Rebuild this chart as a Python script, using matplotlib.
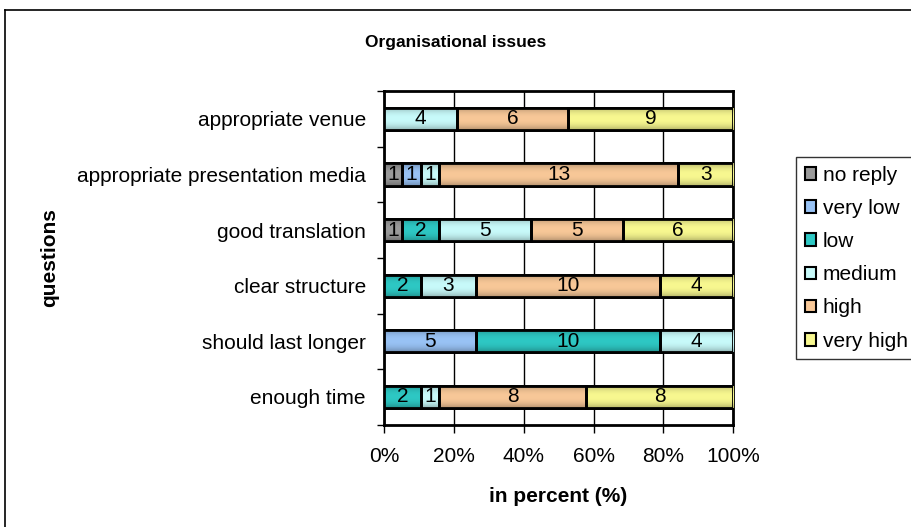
import numpy as np
import matplotlib
matplotlib.use("Agg")
import matplotlib.pyplot as plt
from matplotlib.colors import to_rgb
from matplotlib.lines import Line2D
from matplotlib.patches import Patch

plt.rcParams['font.family'] = ['Liberation Sans', 'DejaVu Sans']

questions = ["enough time", "should last longer", "clear structure",
             "good translation", "appropriate presentation media",
             "appropriate venue"]
levels = ["no reply", "very low", "low", "medium", "high", "very high"]

no_reply  = [0, 0, 0, 1, 1, 0]
very_low  = [0, 5, 0, 0, 1, 0]
low       = [2, 10, 2, 2, 0, 0]
medium    = [1, 4, 3, 5, 1, 4]
high      = [8, 0, 10, 5, 13, 6]
very_high = [8, 0, 4, 6, 3, 9]

series = [no_reply, very_low, low, medium, high, very_high]
colors = ["#9a9a9a", "#99c3f5", "#2ec8c4", "#c8fafa", "#f8c898", "#f8f890"]

FS = 15

fig = plt.figure(figsize=(9.12, 5.27), dpi=100)
ax = fig.add_axes([0.421, 0.194, 0.383, 0.633])

counts = np.array(series, dtype=float)
totals = counts.sum(axis=0)
pct = counts / totals * 100
y = np.arange(len(questions))
bar_h = 0.4


def shaded(color):
    base = np.array(to_rgb(color))
    t = np.linspace(-1, 1, 64)
    k = 1 - 0.28 * np.abs(t) ** 2.2
    img = np.clip(base[None, :] * k[:, None], 0, 1)
    return img[:, None, :]


left = np.zeros(len(questions))
for vals, p, col, name in zip(series, pct, colors, levels):
    bars = ax.barh(y, p, left=left, height=bar_h, color=col,
                   edgecolor="black", linewidth=2, zorder=3, label=name)
    for b, v, l, w in zip(bars, vals, left, p):
        if v == 0:
            continue
        yc = b.get_y()
        im = ax.imshow(shaded(col), extent=[l, l + w, yc, yc + bar_h],
                       aspect="auto", interpolation="bilinear", zorder=3.5,
                       origin="lower")
        im.set_clip_path(b)
        ax.add_patch(plt.Rectangle((l, yc), w, bar_h, fill=False,
                                   edgecolor="black", linewidth=2, zorder=4))
        ax.text(l + w / 2, yc + bar_h / 2, str(v), ha="center", va="center",
                fontsize=FS, color="black", zorder=5)
    left = left + p

ax.set_xlim(0, 100)
ax.set_ylim(-0.5, len(questions) - 0.5)
ax.set_xticks(np.arange(0, 101, 20))
ax.set_xticklabels([f"{v}%" for v in range(0, 101, 20)], fontsize=FS)
ax.set_yticks(y)
ax.set_yticklabels(questions, fontsize=FS)
ax.set_yticks(np.arange(-0.5, len(questions), 1), minor=True)
ax.tick_params(axis="y", which="major", length=0, pad=13)
ax.tick_params(axis="y", which="minor", length=5, width=1, direction="out")
ax.tick_params(axis="x", length=6, width=1, direction="out", pad=10)
ax.xaxis.grid(True, color="black", linewidth=1, zorder=0)
ax.set_axisbelow(True)
for s in ax.spines.values():
    s.set_linewidth(2)

ax.set_xlabel("in percent (%)", fontsize=FS, fontweight="bold")
ax.xaxis.set_label_coords(0.5, -0.186)
ax.set_ylabel("questions", fontsize=FS, fontweight="bold")
ax.yaxis.set_label_coords(-0.931, 0.5)

fig.text(0.5, 0.92, "Organisational issues", ha="center", va="center",
         fontsize=12.5, fontweight="bold")

handles = [Patch(facecolor=c, edgecolor="black", linewidth=1.5) for c in colors]
leg = fig.legend(handles, levels, loc="upper left",
                 bbox_to_anchor=(0.873, 0.702), fontsize=FS, frameon=True,
                 fancybox=False, edgecolor="black", handlelength=0.55,
                 handleheight=0.55, handletextpad=0.3, labelspacing=0.68,
                 borderpad=0.42, borderaxespad=0)
leg.get_frame().set_linewidth(1)

# outer chart frame (left and top edges)
fig.add_artist(Line2D([0.0055, 0.0055], [0, 0.981], color="black", lw=1.2,
                      transform=fig.transFigure))
fig.add_artist(Line2D([0.0055, 1], [0.981, 0.981], color="black", lw=1.2,
                      transform=fig.transFigure))

fig.savefig("out.png", dpi=100)
